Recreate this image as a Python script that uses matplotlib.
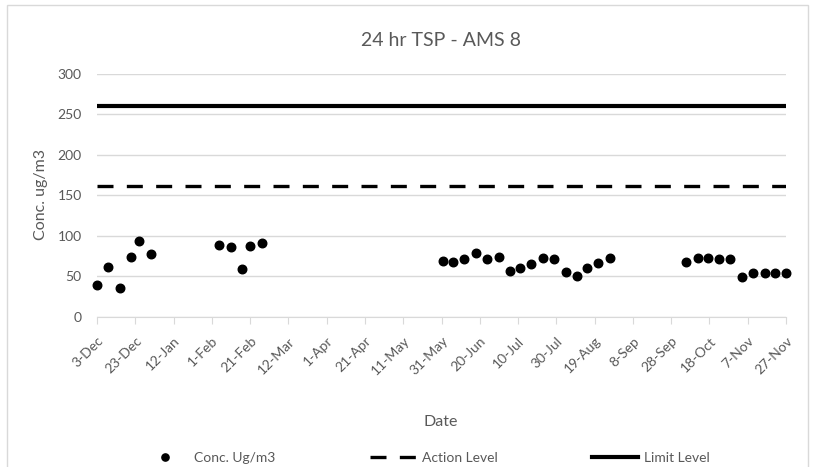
import matplotlib
matplotlib.use("Agg")
import matplotlib.pyplot as plt
import matplotlib.dates as mdates
from matplotlib.lines import Line2D
from matplotlib.patches import Rectangle
import pandas as pd

plt.rcParams['font.family'] = ['Lato', 'DejaVu Sans']

# sample dates and 24 hr TSP concentrations (ug/m3)
sample_dates = [
    "2019-12-03", "2019-12-09", "2019-12-15", "2019-12-21", "2019-12-25", "2019-12-31",
    "2020-02-05", "2020-02-11", "2020-02-17", "2020-02-21", "2020-02-27",
    "2020-06-01", "2020-06-06", "2020-06-12", "2020-06-18", "2020-06-24", "2020-06-30",
    "2020-07-06", "2020-07-11", "2020-07-17", "2020-07-23", "2020-07-29",
    "2020-08-04", "2020-08-10", "2020-08-15", "2020-08-21", "2020-08-27",
    "2020-10-06", "2020-10-12", "2020-10-17", "2020-10-23", "2020-10-29",
    "2020-11-04", "2020-11-10", "2020-11-16", "2020-11-21", "2020-11-27",
]
conc = [
    39, 61, 36, 74, 93, 77,
    88, 86, 59, 87, 91,
    69, 67, 71, 79, 71, 74,
    56, 60, 65, 73, 71,
    55, 50, 60, 66, 72,
    67, 73, 73, 71, 71,
    49, 54, 54, 54, 54,
]
action_level = 161
limit_level = 260
start_date = "2019-12-03"
end_date = "2020-11-27"

dates = pd.to_datetime(sample_dates)
tick_dates = pd.date_range(start_date, end_date, freq="20D")
x_span = [pd.Timestamp(start_date), pd.Timestamp(end_date)]

grey = "#595959"
grid_c = "#d9d9d9"
action_dash = (4.8, 4.0)

fig = plt.figure(figsize=(8.16, 4.67), dpi=100)
ax = fig.add_axes([97 / 816, 1 - 316.7 / 467, (786 - 97) / 816, (316.7 - 73.7) / 467])

# chart area border
fig.patches.append(Rectangle((7 / 816, -0.1), 801 / 816, 1.1 - 5 / 467, transform=fig.transFigure,
                             fill=False, edgecolor=grid_c, linewidth=1))

ax.scatter(dates, conc, s=38, color="black", zorder=3, clip_on=False)
ax.plot(x_span, [action_level] * 2, color="black", linewidth=2.4, dashes=action_dash, zorder=2)
ax.plot(x_span, [limit_level] * 2, color="black", linewidth=3.0, zorder=2)

ax.set_xlim(x_span)
ax.set_ylim(0, 300)
ax.set_yticks(range(0, 301, 50))
ax.set_xticks(tick_dates)
ax.xaxis.set_major_formatter(mdates.DateFormatter("%-d-%b"))
for lbl in ax.get_xticklabels():
    lbl.set_rotation(45)
    lbl.set_ha("right")
    lbl.set_rotation_mode("anchor")

ax.grid(axis="y", color=grid_c, linewidth=1)
ax.set_axisbelow(True)
for s in ["top", "right", "left"]:
    ax.spines[s].set_visible(False)
ax.spines["bottom"].set_color(grid_c)
ax.tick_params(axis="y", length=0, labelsize=10, labelcolor=grey, pad=11)
ax.tick_params(axis="x", length=5, color=grid_c, labelsize=10, labelcolor=grey, pad=8)

fig.text(41 / 816, 1 - 195 / 467, "Conc. ug/m3", fontsize=11.5, color=grey, rotation=90,
         ha="center", va="center")
fig.text(441 / 816, 1 - 422 / 467, "Date", fontsize=11.5, color=grey, ha="center", va="center")
fig.text(441 / 816, 1 - 40 / 467, "24 hr TSP - AMS 8", fontsize=14, color=grey, ha="center", va="center")

handles = [
    Line2D([], [], linestyle="none", marker="o", markersize=5.2, color="black"),
    Line2D([], [], color="black", linewidth=2.4, dashes=action_dash),
    Line2D([], [], color="black", linewidth=3.0),
]
labels = ["Conc. Ug/m3", "Action Level", "Limit Level"]
leg = fig.legend(handles, labels, loc="center left", bbox_to_anchor=(142 / 816, 1 - 458 / 467), ncol=3,
                 frameon=False, fontsize=10, handlelength=3.3, columnspacing=6.8, handletextpad=0.45,
                 borderpad=0, borderaxespad=0)
for t in leg.get_texts():
    t.set_color(grey)

fig.savefig("out.png", dpi=100)
